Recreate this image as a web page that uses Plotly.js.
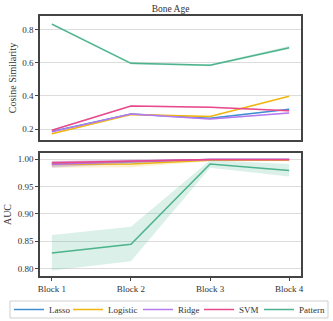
<!DOCTYPE html>
<html>
<head>
<meta charset="utf-8">
<script src="https://cdn.plot.ly/plotly-3.0.1.min.js"></script>
<style>
  html, body { margin: 0; padding: 0; background: #fff; }
  #chart { width: 333px; height: 321px; }
</style>
</head>
<body>
<div id="chart"></div>
<script>
const blocks = ['Block 1', 'Block 2', 'Block 3', 'Block 4'];
const methods = ['Lasso', 'Logistic', 'Ridge', 'SVM', 'Pattern'];
const colors = ['#3f8fd0', '#efb60f', '#b57af0', '#e8488c', '#4cb38c'];

// cosine similarity (top panel): mean and half-width of band
const cosMean = {
    Lasso:    [0.186, 0.290, 0.265, 0.320],
    Logistic: [0.172, 0.287, 0.276, 0.398],
    Ridge:    [0.183, 0.290, 0.260, 0.297],
    SVM:      [0.193, 0.339, 0.332, 0.310],
    Pattern:  [0.832, 0.596, 0.585, 0.690]
};
const cosErr = {
    Lasso:    [0.004, 0.004, 0.004, 0.004],
    Logistic: [0.004, 0.004, 0.004, 0.004],
    Ridge:    [0.004, 0.004, 0.004, 0.004],
    SVM:      [0.004, 0.004, 0.004, 0.004],
    Pattern:  [0.007, 0.007, 0.006, 0.010]
};

// AUC (bottom panel)
const aucMean = {
    Lasso:    [0.991, 0.995, 0.999, 0.999],
    Logistic: [0.990, 0.991, 0.998, 0.998],
    Ridge:    [0.990, 0.996, 0.999, 0.999],
    SVM:      [0.993, 0.996, 0.999, 0.999],
    Pattern:  [0.828, 0.844, 0.991, 0.979]
};
const aucLow = {
    Lasso:    [0.985, 0.991, 0.998, 0.998],
    Logistic: [0.984, 0.985, 0.996, 0.996],
    Ridge:    [0.984, 0.992, 0.998, 0.998],
    SVM:      [0.989, 0.993, 0.998, 0.998],
    Pattern:  [0.796, 0.813, 0.984, 0.968]
};
const aucHigh = {
    Lasso:    [0.996, 0.998, 1.000, 1.000],
    Logistic: [0.995, 0.996, 1.000, 1.000],
    Ridge:    [0.996, 0.999, 1.000, 1.000],
    SVM:      [0.997, 0.999, 1.000, 1.000],
    Pattern:  [0.861, 0.876, 0.998, 0.991]
};

function hexA(hex, a) {
    const n = parseInt(hex.slice(1), 16);
    return `rgba(${(n >> 16) & 255},${(n >> 8) & 255},${n & 255},${a})`;
}

// one plotly legend per entry so the row fits like the matplotlib legend
const legendX = [9, 68, 138, 199, 259];

const traces = [];
methods.forEach((m, i) => {
    const c = colors[i];
    const lg = i === 0 ? 'legend' : 'legend' + (i + 1);
    // top band + line
    traces.push({ x: blocks, y: cosMean[m].map((v, k) => v - cosErr[m][k]), xaxis: 'x', yaxis: 'y',
        mode: 'lines', line: { width: 0 }, showlegend: false, hoverinfo: 'skip' });
    traces.push({ x: blocks, y: cosMean[m].map((v, k) => v + cosErr[m][k]), xaxis: 'x', yaxis: 'y',
        mode: 'lines', line: { width: 0 }, fill: 'tonexty', fillcolor: hexA(c, 0.2), showlegend: false, hoverinfo: 'skip' });
    traces.push({ x: blocks, y: cosMean[m], xaxis: 'x', yaxis: 'y', name: m,
        mode: 'lines', line: { color: c, width: 1.5 }, showlegend: false });
    // bottom band + line
    traces.push({ x: blocks, y: aucLow[m], xaxis: 'x2', yaxis: 'y2',
        mode: 'lines', line: { width: 0 }, showlegend: false, hoverinfo: 'skip' });
    traces.push({ x: blocks, y: aucHigh[m], xaxis: 'x2', yaxis: 'y2',
        mode: 'lines', line: { width: 0 }, fill: 'tonexty', fillcolor: hexA(c, 0.2), showlegend: false, hoverinfo: 'skip' });
    traces.push({ x: blocks, y: aucMean[m], xaxis: 'x2', yaxis: 'y2', name: m, legend: lg,
        mode: 'lines', line: { color: c, width: 1.5 }, showlegend: true });
});

const font = { family: 'Liberation Serif, DejaVu Serif, serif', size: 10, color: '#333' };
const frame = { showline: true, mirror: true, linecolor: '#444', linewidth: 1.5,
    gridcolor: '#dcdcdc', gridwidth: 1, zeroline: false, ticks: 'outside', ticklen: 3,
    tickcolor: '#444', tickfont: { size: 9 } };

const layout = {
    width: 333, height: 321,
    margin: { l: 40, r: 32, t: 16, b: 45 },
    font: font,
    paper_bgcolor: '#fff', plot_bgcolor: '#fff',
    title: { text: 'Bone Age', font: { size: 9.5 }, x: 0.512, xanchor: 'center', y: 0.972, yanchor: 'middle' },
    xaxis: Object.assign({}, frame, { domain: [0, 1], anchor: 'y', range: [-0.15, 3.15], showgrid: false,
        showticklabels: false, ticks: '' }),
    yaxis: Object.assign({}, frame, { domain: [0.523, 1], anchor: 'x', range: [0.134, 0.881],
        dtick: 0.2, tick0: 0, tickformat: '.1f',
        title: { text: 'Cosine Similarity', font: { size: 10 }, standoff: 4 } }),
    xaxis2: Object.assign({}, frame, { domain: [0, 1], anchor: 'y2', range: [-0.15, 3.15], showgrid: false }),
    yaxis2: Object.assign({}, frame, { domain: [0, 0.473], anchor: 'x2', range: [0.786, 1.011],
        dtick: 0.05, tick0: 0, tickformat: '.2f',
        title: { text: 'AUC', font: { size: 10 }, standoff: 4 } }),
    showlegend: true,
    // legend frame
    shapes: [{ type: 'rect', xref: 'paper', yref: 'paper',
        x0: (10 - 40) / 261, x1: (328 - 40) / 261, y0: (276 - 318) / 260, y1: (276 - 301) / 260,
        line: { color: '#cfcfcf', width: 1 }, fillcolor: 'rgba(0,0,0,0)' }]
};
legendX.forEach((px, i) => {
    const key = i === 0 ? 'legend' : 'legend' + (i + 1);
    layout[key] = { orientation: 'h', xref: 'container', yref: 'container',
        x: px / 333, xanchor: 'left', y: 1 - 309.5 / 321, yanchor: 'middle',
        bgcolor: 'rgba(0,0,0,0)', borderwidth: 0, font: { size: 9 }, itemwidth: 30 };
});

Plotly.newPlot('chart', traces, layout, { displayModeBar: false, responsive: false });
</script>
</body>
</html>
